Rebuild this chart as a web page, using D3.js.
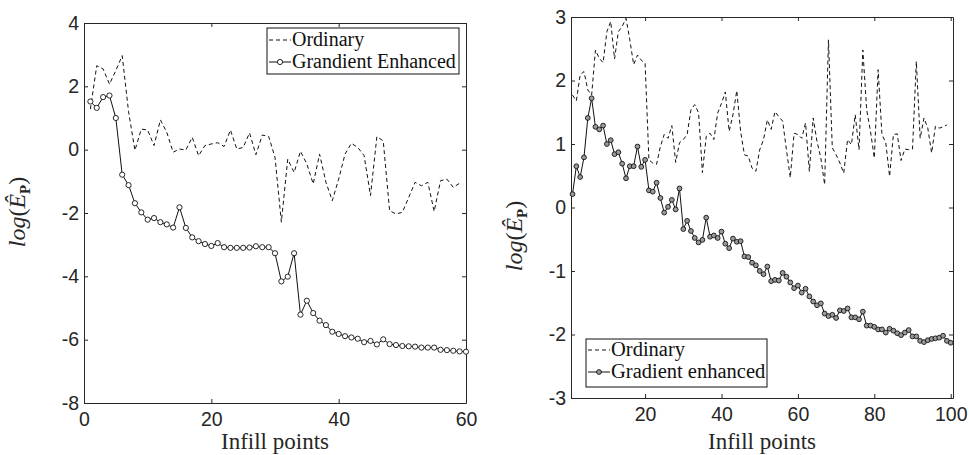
<!DOCTYPE html>
<html>
<head>
<meta charset="utf-8">
<script src="https://cdn.jsdelivr.net/npm/d3@7"></script>
<style>
  body { margin: 0; background: #fff; }
  svg { display: block; }
  .tick line { stroke: #262626; }
  .domain { stroke: #262626; }
</style>
</head>
<body>
<svg id="chart" width="969" height="455"></svg>
<script>
// left panel: 60 infill points
const leftOrdinary = [1.28, 2.65, 2.55, 2.07, 2.5, 2.97, 1.2, -0.02, 0.65, 0.62, 0.13, 0.94, 0.55, -0.08, 0.02,
  -0.01, 0.39, -0.19, 0.13, 0.18, 0.22, 0.1, 0.62, 0.02, 0.07, 0.53, -0.16, 0.46, 0.42, -0.24,
  -2.29, -0.3, -0.72, -0.05, -0.45, -1.08, -0.14, -1.03, -1.61, -0.93, -0.14, 0.2, 0.07, -0.19, -1.45,
  0.41, 0.28, -1.93, -2.03, -1.98, -1.51, -1.03, -1.14, -1.03, -1.95, -0.98, -0.93, -1.19, -1.06];
const leftGradient = [1.52, 1.32, 1.66, 1.71, 1.0, -0.79, -1.12, -1.69, -1.98, -2.21, -2.16, -2.29, -2.36, -2.46, -1.82,
  -2.47, -2.77, -2.89, -2.98, -3.04, -2.95, -3.08, -3.1, -3.1, -3.1, -3.09, -3.05, -3.08, -3.08, -3.27,
  -4.16, -4.01, -3.27, -5.21, -4.77, -5.16, -5.4, -5.54, -5.75, -5.82, -5.89, -5.93, -5.97, -6.08, -6.04,
  -6.15, -5.99, -6.14, -6.17, -6.2, -6.21, -6.22, -6.25, -6.25, -6.25, -6.32, -6.33, -6.35, -6.37, -6.38];

// right panel: 100 infill points
const rightOrdinary = [1.77, 1.68, 2.09, 2.14, 1.85, 1.77, 2.48, 2.35, 2.28, 2.77, 2.93, 2.34, 2.77, 2.85, 2.98,
  2.64, 2.25, 2.4, 2.32, 2.27, 0.75, 0.7, 0.68, 0.96, 1.15, 1.09, 1.29, 0.71, 1.02, 1.07,
  1.15, 1.54, 1.62, 1.49, 0.55, 1.12, 1.17, 1.07, 1.49, 1.64, 1.82, 1.2, 1.46, 1.84, 1.2,
  0.83, 0.81, 0.62, 0.57, 0.91, 1.07, 1.38, 1.23, 1.51, 1.43, 1.36, 0.91, 0.47, 1.17, 1.15,
  1.09, 1.33, 0.57, 1.41, 1.04, 0.78, 0.36, 2.64, 0.94, 0.83, 0.7, 0.54, 1.07, 0.99, 1.46,
  0.91, 2.48, 1.54, 1.2, 0.78, 2.17, 1.15, 1.02, 0.49, 1.15, 1.16, 0.74, 0.92, 0.91, 0.92,
  2.3, 1.09, 1.41, 1.25, 0.86, 1.28, 1.25, 1.27, 1.3];
const rightGradient = [0.21, 0.65, 0.48, 0.79, 1.41, 1.72, 1.27, 1.23, 1.29, 1.0, 1.06, 0.84, 0.87, 0.69, 0.46,
  0.65, 0.65, 0.96, 0.64, 0.75, 0.27, 0.25, 0.39, 0.15, -0.08, 0.01, 0.12, -0.03, 0.3, -0.34,
  -0.21, -0.37, -0.48, -0.55, -0.51, -0.16, -0.46, -0.44, -0.48, -0.38, -0.57, -0.64, -0.49, -0.54, -0.53,
  -0.77, -0.78, -0.87, -0.91, -1.0, -1.05, -0.93, -1.16, -1.14, -1.15, -1.03, -1.09, -1.18, -1.27, -1.23,
  -1.34, -1.28, -1.4, -1.48, -1.54, -1.51, -1.67, -1.71, -1.69, -1.74, -1.62, -1.63, -1.59, -1.73, -1.73,
  -1.76, -1.64, -1.86, -1.86, -1.88, -1.92, -1.92, -1.97, -1.91, -1.94, -1.98, -2.01, -1.97, -1.93, -2.03,
  -2.03, -2.1, -2.12, -2.09, -2.07, -2.06, -2.05, -2.02, -2.1, -2.13];

const leftXTicks = [0, 20, 40, 60];
const leftYTicks = [-8, -6, -4, -2, 0, 2, 4];
const rightXTicks = [20, 40, 60, 80, 100];
const rightYTicks = [-3, -2, -1, 0, 1, 2, 3];

const serif = '"Liberation Serif", "Times New Roman", serif';
const sans = '"Liberation Sans", Arial, sans-serif';

const svg = d3.select('#chart');
svg.append('rect').attr('width', 969).attr('height', 455).attr('fill', '#fff');

function drawPanel(opt) {
  const x = d3.scaleLinear().domain(opt.xDomain).range(opt.xRange);
  const y = d3.scaleLinear().domain(opt.yDomain).range(opt.yRange);
  const g = svg.append('g');
  const [x0, x1] = opt.xRange, [y0, y1] = opt.yRange; // y0 bottom, y1 top

  // box with inward ticks on all four sides
  g.append('g').attr('transform', `translate(0,${y0})`)
    .call(d3.axisBottom(x).tickValues(opt.xTicks).tickSizeInner(-4).tickSizeOuter(0).tickPadding(9));
  g.append('g').attr('transform', `translate(0,${y1})`)
    .call(d3.axisTop(x).tickValues(opt.xTicks).tickSizeInner(-4).tickSizeOuter(0).tickFormat(''));
  g.append('g').attr('transform', `translate(${x0},0)`)
    .call(d3.axisLeft(y).tickValues(opt.yTicks).tickSizeInner(-4).tickSizeOuter(0).tickPadding(5).tickFormat(d3.format('d')));
  g.append('g').attr('transform', `translate(${x1},0)`)
    .call(d3.axisRight(y).tickValues(opt.yTicks).tickSizeInner(-4).tickSizeOuter(0).tickFormat(''));
  g.selectAll('.tick text')
    .attr('font-family', sans).attr('font-size', 19.5).attr('fill', '#262626')
    .text(function() { return this.textContent.replace('−', '-'); });

  const line = d3.line().x((d, i) => x(i + 1)).y(d => y(d));

  g.append('path').datum(opt.ordinary)
    .attr('d', line).attr('fill', 'none').attr('stroke', '#111')
    .attr('stroke-width', 1).attr('stroke-dasharray', '4,3');

  g.append('path').datum(opt.gradient)
    .attr('d', line).attr('fill', 'none').attr('stroke', '#111').attr('stroke-width', 1);

  g.selectAll('circle.pt').data(opt.gradient).join('circle')
    .attr('class', 'pt')
    .attr('cx', (d, i) => x(i + 1)).attr('cy', d => y(d))
    .attr('r', opt.r).attr('fill', opt.markerFill).attr('stroke', '#111').attr('stroke-width', 0.9);

  // x label
  g.append('text').attr('x', (x0 + x1) / 2).attr('y', 449)
    .attr('text-anchor', 'middle')
    .attr('font-family', serif).attr('font-size', 23).attr('fill', '#262626')
    .text('Infill points');

  // y label log(Ê_P)
  const yl = g.append('text')
    .attr('transform', `translate(${opt.yLabelX},${opt.yLabelY}) rotate(-90)`)
    .attr('text-anchor', 'middle')
    .attr('font-family', serif).attr('font-size', 24).attr('fill', '#262626');
  yl.append('tspan').style('font-style', 'italic').text('log');
  yl.append('tspan').text('(');
  yl.append('tspan').style('font-style', 'italic').text('Ê');
  yl.append('tspan').attr('dy', 5).style('font-size', '15px').style('font-weight', 'bold').text('P');
  yl.append('tspan').attr('dy', -5).text(')');

  // legend
  const L = opt.legend;
  const lg = g.append('g');
  lg.append('rect').attr('x', L.x).attr('y', L.y).attr('width', L.w).attr('height', L.h)
    .attr('fill', '#fff').attr('stroke', '#111').attr('stroke-width', 1);
  const rows = [{ name: 'Ordinary', dash: '4,3', marker: false }, { name: opt.gradName, dash: null, marker: true }];
  rows.forEach((r, i) => {
    const cy = L.y + L.row0 + i * L.rowStep;
    lg.append('line').attr('x1', L.x + 2).attr('x2', L.x + 24).attr('y1', cy).attr('y2', cy)
      .attr('stroke', '#111').attr('stroke-width', 1).attr('stroke-dasharray', r.dash);
    if (r.marker) {
      lg.append('circle').attr('cx', L.x + 13).attr('cy', cy).attr('r', opt.r)
        .attr('fill', opt.markerFill).attr('stroke', '#111').attr('stroke-width', 0.9);
    }
    lg.append('text').attr('x', L.x + 25).attr('y', cy + 6)
      .attr('font-family', serif).attr('font-size', L.fs).attr('fill', '#111').text(r.name);
  });
}

drawPanel({
  xDomain: [0, 60], xRange: [84, 466], yDomain: [-8, 4], yRange: [403, 23],
  xTicks: leftXTicks, yTicks: leftYTicks,
  ordinary: leftOrdinary, gradient: leftGradient,
  r: 2.6, markerFill: '#fff', gradName: 'Grandient Enhanced',
  yLabelX: 25, yLabelY: 212,
  legend: { x: 267, y: 28, w: 192, h: 46, row0: 12, rowStep: 22, fs: 20 }
});

drawPanel({
  xDomain: [0.6, 100.6], xRange: [571, 953], yDomain: [-3, 3], yRange: [398, 17],
  xTicks: rightXTicks, yTicks: rightYTicks,
  ordinary: rightOrdinary, gradient: rightGradient,
  r: 2.4, markerFill: '#9a9a9a', gradName: 'Gradient enhanced',
  yLabelX: 522, yLabelY: 236,
  legend: { x: 586, y: 339, w: 181, h: 48, row0: 11, rowStep: 22, fs: 20.5 }
});
</script>
</body>
</html>
